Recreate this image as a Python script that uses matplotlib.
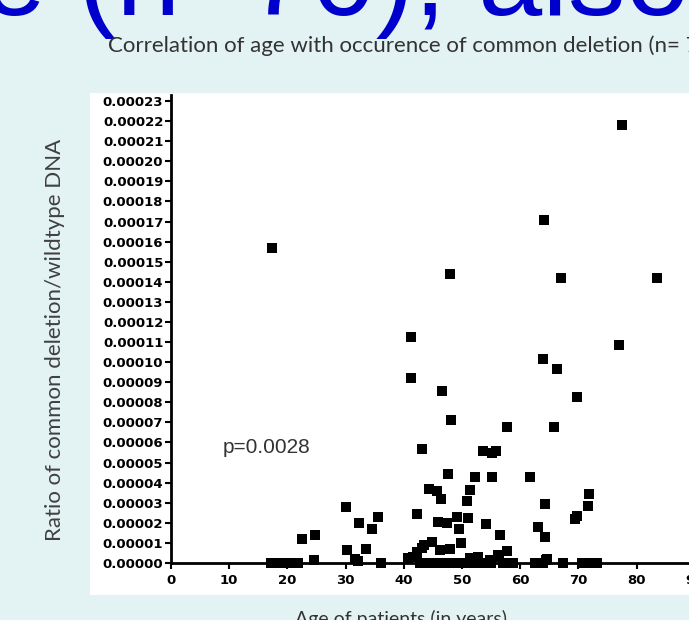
import numpy as np
import matplotlib
matplotlib.use("Agg")
import matplotlib.pyplot as plt
from matplotlib.patches import Rectangle

# age of patient (years) and ratio of common deletion / wildtype DNA
age = [17.4, 77.5, 64.1, 47.9, 67.0, 83.5, 41.2, 77.0, 63.9, 66.3, 41.2, 46.6,
       69.8, 48.1, 57.7, 65.8, 43.1, 53.6, 55.2, 55.8, 47.6, 52.2, 55.2, 61.7,
       30.1, 32.3, 34.5, 35.6, 22.5, 24.7, 30.2, 33.5, 31.6, 42.2, 44.3, 45.7,
       46.4, 51.4, 50.9, 45.9, 47.4, 49.1, 51.0, 49.5, 54.1, 56.5, 49.8, 44.8,
       47.9, 46.2, 43.1, 42.2, 41.6, 57.7, 56.4, 63.1, 64.3, 64.3, 69.4, 69.8,
       71.6, 71.8, 64.4, 24.6, 32.1, 40.7, 42.2, 43.5, 51.4, 52.7, 54.8, 56.2,
       64.6,
       17.2, 18.4, 19.2, 19.9, 20.8, 21.8, 36.0, 42.8, 44.3, 45.5, 46.8, 48.0,
       49.0, 50.5, 52.0, 53.5, 55.0, 57.0, 58.0, 58.8, 62.5, 63.2, 63.9, 67.4,
       70.6, 71.3, 72.0, 73.2]
ratio_e5 = [15.7, 21.8, 17.1, 14.4, 14.2, 14.2, 11.25, 10.85, 10.15, 9.65, 9.2, 8.55,
            8.25, 7.1, 6.75, 6.75, 5.7, 5.6, 5.5, 5.6, 4.45, 4.3, 4.3, 4.3,
            2.8, 2.0, 1.7, 2.3, 1.2, 1.4, 0.65, 0.7, 0.2, 2.45, 3.7, 3.6,
            3.2, 3.65, 3.1, 2.05, 2.0, 2.3, 2.25, 1.7, 1.95, 1.4, 1.0, 1.05,
            0.7, 0.65, 0.75, 0.55, 0.3, 0.6, 0.3, 1.8, 1.3, 2.95, 2.2, 2.35,
            2.85, 3.45, 0.15, 0.15, 0.1, 0.25, 0.4, 0.9, 0.25, 0.3, 0.15, 0.4,
            0.2,
            0, 0, 0, 0, 0, 0, 0, 0, 0, 0, 0, 0,
            0, 0, 0, 0, 0, 0, 0, 0, 0, 0, 0, 0,
            0, 0, 0, 0]
ratio = np.array(ratio_e5) * 1e-5

y_ticks = np.arange(0, 24) * 1e-5
x_ticks = np.arange(0, 101, 10)

W, H = 689, 620
fig = plt.figure(figsize=(W / 100, H / 100), dpi=100)
fig.patch.set_facecolor("#e3f2f3")

# white chart panel of the slide
fig.patches.append(Rectangle((90 / W, 1 - 595 / H), 1.0, (595 - 93) / H,
                             transform=fig.transFigure, facecolor="white",
                             edgecolor="none", zorder=-1))

# slide heading, cut off at the top
fig.text(-18 / W, 1 - 15 / H, "e (n=70), also", color="#0000cc",
         fontsize=83, family="Liberation Sans", va="baseline", ha="left")

fig.text(108 / W, 1 - 46 / H,
         "Correlation of age with occurence of common deletion (n= 70)",
         color="#333333", fontsize=16, family="Lato", va="center", ha="left")

ax = fig.add_axes([171 / W, 57 / H, 582 / W, (563 - 95) / H])
ax.set_facecolor("none")
ax.plot(age, ratio, "s", color="black", ms=7, mew=0, clip_on=False, zorder=3)

ax.set_xlim(0, 100)
ax.set_ylim(0, 2.33e-4)
ax.set_xticks(x_ticks)
ax.set_yticks(y_ticks)
ax.set_yticklabels(["%.5f" % v for v in y_ticks])
for s in ["top", "right"]:
    ax.spines[s].set_visible(False)
for s in ["left", "bottom"]:
    ax.spines[s].set_linewidth(2)
ax.tick_params(direction="out", length=4, width=1.5, pad=1.5)
ax.tick_params(axis="x", pad=4)
for lab in ax.get_xticklabels() + ax.get_yticklabels():
    lab.set_fontweight("bold")
    lab.set_fontsize(9.5)
    lab.set_family("DejaVu Sans")

ax.text(8.8, 5.77e-5, "p=0.0028", fontsize=15, family="Liberation Sans",
        color="#333333", va="center", ha="left")

fig.text(55 / W, 1 - 340 / H, "Ratio of common deletion/wildtype DNA",
         rotation=90, fontsize=16, family="Lato", color="#404040",
         va="center", ha="center")
fig.text(401 / W, 1 - 619 / H, "Age of patients (in years)",
         fontsize=14, family="Lato", color="#333333", va="center", ha="center")

fig.savefig("out.png", dpi=100)
